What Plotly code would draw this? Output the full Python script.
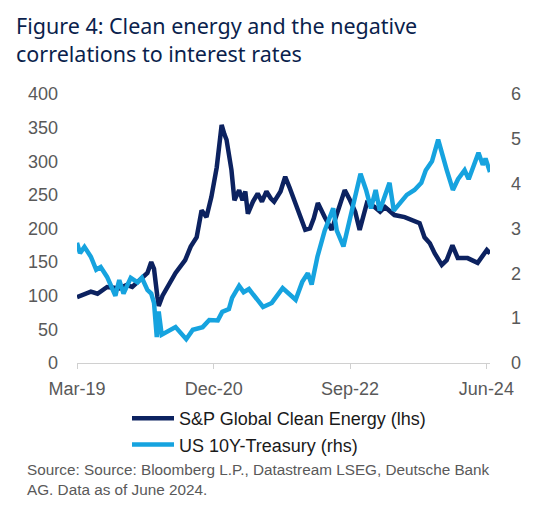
import plotly.graph_objects as go

# S&P Global Clean Energy index (lhs)
ce_dates = ["2019-03-01","2019-04-10","2019-05-05","2019-06-05","2019-07-20","2019-09-15","2019-10-20",
            "2019-11-15","2019-12-20","2020-01-25","2020-02-12","2020-02-25","2020-03-12","2020-03-18",
            "2020-04-05","2020-04-30","2020-06-05","2020-07-20","2020-08-15","2020-09-12","2020-10-05",
            "2020-10-28","2020-11-20","2020-12-15","2021-01-07","2021-01-20","2021-01-30","2021-02-22",
            "2021-03-08","2021-03-30","2021-04-15","2021-04-28","2021-05-10","2021-06-03","2021-06-25",
            "2021-07-15","2021-08-05","2021-08-25","2021-09-10","2021-10-10","2021-11-01","2021-11-20",
            "2021-12-07","2022-01-10","2022-02-03","2022-02-25","2022-03-15","2022-04-03","2022-04-20",
            "2022-05-05","2022-06-07","2022-06-25","2022-07-20","2022-08-07","2022-09-01","2022-09-25",
            "2022-10-16","2022-11-19","2022-12-25","2023-01-20","2023-02-12","2023-03-28","2023-05-15",
            "2023-07-01","2023-07-24","2023-08-16","2023-09-10","2023-10-03","2023-10-25","2023-11-05",
            "2023-11-28","2023-12-25","2024-01-19","2024-03-05","2024-04-21","2024-06-03","2024-06-18"]
ce_values = [98,104,106,103,113,111,116,
             113,123,134,150,140,98,85,
             100,113,134,153,173,187,227,
             217,247,291,354,340,332,287,
             242,257,242,255,222,240,252,
             240,255,245,240,255,277,262,
             247,222,198,200,215,238,225,
             217,198,215,240,257,242,225,
             198,238,232,225,232,220,217,
             210,208,187,178,163,150,146,
             153,175,156,156,149,168,163]

# US 10Y Treasury yield (rhs)
ust_dates = ["2019-03-01","2019-03-15","2019-04-05","2019-05-05","2019-05-30","2019-06-20","2019-07-20",
             "2019-08-28","2019-09-15","2019-10-05","2019-11-08","2019-12-10","2019-12-30","2020-01-25",
             "2020-02-12","2020-02-25","2020-03-09","2020-03-18","2020-04-01","2020-06-05","2020-07-25",
             "2020-08-25","2020-10-10","2020-11-10","2020-12-20","2021-01-10","2021-02-10","2021-02-25",
             "2021-03-30","2021-04-20","2021-05-15","2021-06-10","2021-07-20","2021-08-30","2021-10-20",
             "2021-12-20","2022-01-20","2022-02-15","2022-03-05","2022-04-01","2022-05-05","2022-06-14",
             "2022-07-01","2022-08-01","2022-09-05","2022-09-25","2022-10-20","2022-11-15","2022-12-08",
             "2022-12-30","2023-01-18","2023-03-05","2023-03-25","2023-04-20","2023-05-25","2023-06-30",
             "2023-08-01","2023-08-22","2023-09-20","2023-10-19","2023-11-05","2023-11-28","2023-12-27",
             "2024-01-20","2024-02-20","2024-03-10","2024-04-25","2024-05-15","2024-05-28","2024-06-18"]
ust_values = [2.68,2.45,2.59,2.37,2.08,2.14,1.92,
              1.50,1.85,1.55,1.90,1.80,1.90,1.63,
              1.55,1.34,0.58,1.15,0.63,0.80,0.53,
              0.74,0.80,0.96,0.95,1.14,1.20,1.45,
              1.72,1.58,1.65,1.50,1.25,1.34,1.67,
              1.41,1.81,2.00,1.75,2.37,2.95,3.45,
              2.95,2.60,3.30,3.75,4.22,3.86,3.45,
              3.86,3.40,4.02,3.40,3.55,3.75,3.86,
              4.02,4.30,4.50,4.98,4.65,4.31,3.86,
              4.10,4.30,4.10,4.69,4.42,4.56,4.26]

tick_dates = ["2019-03-01","2020-12-01","2022-09-01","2024-06-01"]
tick_labels = ["Mar-19","Dec-20","Sep-22","Jun-24"]
left_ticks = [0,50,100,150,200,250,300,350,400]
right_ticks = [0,1,2,3,4,5,6]

NAVY = "#0c2260"
SKY = "#16a3df"
GREY = "#595959"
FONT = "Liberation Sans, Arial, sans-serif"

# The page body has an 8px margin, so the figure is sized to fit inside it.
W, H = 543, 509
OFF = 8
PL, PR, PT, PB = 69, 61, 86, 154
PW = W - PL - PR
PH = H - PT - PB


def px(page_x):
    return (page_x - OFF - PL) / PW


def py(page_y):
    return (H - PB - (page_y - OFF)) / PH


fig = go.Figure()
fig.add_trace(go.Scatter(x=ce_dates, y=ce_values, mode="lines",
                         name="S&P Global Clean Energy (lhs)",
                         line=dict(color=NAVY, width=4.5), yaxis="y"))
fig.add_trace(go.Scatter(x=ust_dates, y=ust_values, mode="lines",
                         name="US 10Y-Treasury (rhs)",
                         line=dict(color=SKY, width=4.5), yaxis="y2"))

fig.update_layout(
    width=W, height=H,
    margin=dict(l=PL, r=PR, t=PT, b=PB, autoexpand=False),
    paper_bgcolor="white", plot_bgcolor="white",
    font=dict(family=FONT, size=18, color=GREY),
    showlegend=True,
    legend=dict(x=px(127), y=py(400), xanchor="left", yanchor="top",
                font=dict(size=18, color="#1a1a1a"), bgcolor="rgba(0,0,0,0)",
                itemwidth=42, tracegroupgap=0),
    xaxis=dict(type="date", range=["2019-03-01","2024-06-18"],
               tickvals=tick_dates, ticktext=tick_labels,
               showgrid=False, zeroline=False,
               showline=True, linecolor="#d0d0d0", linewidth=1,
               ticks="outside", ticklen=5, tickcolor="#d0d0d0",
               ticklabelstandoff=4,
               tickfont=dict(size=18, color=GREY)),
    yaxis=dict(range=[0,400], tickvals=left_ticks, showgrid=False, zeroline=False,
               showline=False, ticklabelstandoff=18,
               tickfont=dict(size=18, color=GREY)),
    yaxis2=dict(range=[0,6], tickvals=right_ticks, overlaying="y", side="right",
                showgrid=False, zeroline=False, showline=False, ticklabelstandoff=20,
                tickfont=dict(size=18, color=GREY)),
)

fig.add_annotation(xref="paper", yref="paper", x=px(14), y=py(9),
                   xanchor="left", yanchor="top", align="left", showarrow=False,
                   text="Figure 4: Clean energy and the negative<br>correlations to interest rates",
                   font=dict(family="Noto Sans, sans-serif", size=21.5, color="#0b1f4d"))

fig.add_annotation(xref="paper", yref="paper", x=px(25), y=py(479),
                   xanchor="left", yanchor="middle", align="left", showarrow=False,
                   text="Source: Source: Bloomberg L.P., Datastream LSEG, Deutsche Bank<br>AG. Data as of June 2024.",
                   font=dict(family=FONT, size=15.3, color=GREY))

fig.write_html("out.html")
